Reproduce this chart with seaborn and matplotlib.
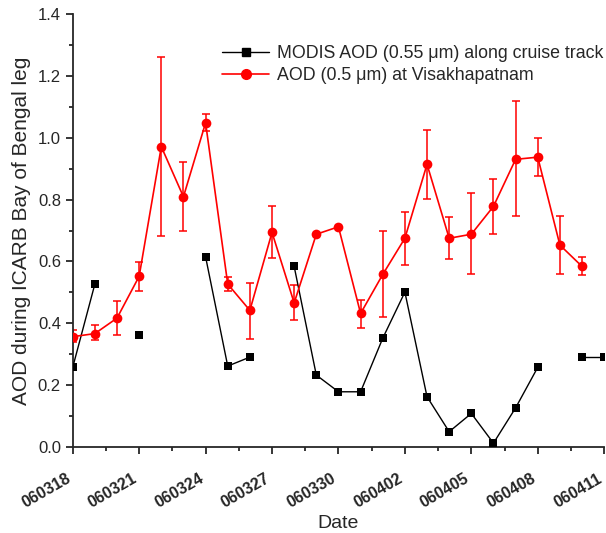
import numpy as np
import pandas as pd
import matplotlib
matplotlib.use("Agg")
import matplotlib.pyplot as plt
import matplotlib.transforms as mtransforms
from matplotlib.ticker import MultipleLocator
import seaborn as sns

# days counted from 060318
tick_labels = ["060318", "060321", "060324", "060327", "060330",
               "060402", "060405", "060408", "060411"]

# MODIS AOD (0.55 um) along cruise track, gaps split into segments
modis_day = [0, 1, 3, 6, 7, 8, 10, 11, 12, 13, 14, 15, 16, 17, 18, 19, 20, 21, 23, 24]
modis_aod = [0.258, 0.527, 0.361, 0.615, 0.262, 0.291, 0.584, 0.233, 0.179, 0.179,
             0.352, 0.501, 0.163, 0.050, 0.109, 0.013, 0.127, 0.258, 0.292, 0.292]
modis_seg = [0, 0, 1, 2, 2, 2, 3, 3, 3, 3, 3, 3, 3, 3, 3, 3, 3, 3, 4, 4]

# AOD (0.5 um) at Visakhapatnam with error bar ends
vsk_day = list(range(24))
vsk_aod = [0.357, 0.367, 0.417, 0.552, 0.971, 0.809, 1.048, 0.527, 0.442, 0.694,
           0.466, 0.688, 0.712, 0.432, 0.558, 0.675, 0.914, 0.675, 0.688, 0.778,
           0.930, 0.937, 0.653, 0.584]
vsk_hi = [0.377, 0.394, 0.473, 0.598, 1.261, 0.921, 1.076, 0.549, 0.531, 0.779,
          0.524, np.nan, np.nan, 0.475, 0.698, 0.761, 1.025, 0.743, 0.822, 0.866,
          1.120, 0.999, 0.746, 0.614]
vsk_lo = [0.340, 0.345, 0.361, 0.504, 0.682, 0.699, 1.022, 0.505, 0.348, 0.610,
          0.411, np.nan, np.nan, 0.385, 0.419, 0.589, 0.801, 0.608, 0.559, 0.690,
          0.747, 0.875, 0.559, 0.556]

modis = pd.DataFrame({"day": modis_day, "aod": modis_aod, "seg": modis_seg})
vsk = pd.DataFrame({"day": vsk_day, "aod": vsk_aod, "hi": vsk_hi, "lo": vsk_lo})

sns.set_style("ticks")
plt.rcParams["font.family"] = ["Liberation Sans", "DejaVu Sans"]

fig = plt.figure(figsize=(6.06, 5.33), dpi=100)
ax = fig.add_axes([0.12, 0.161, 0.877, 0.813])

err = vsk.dropna()
ax.errorbar(err["day"], err["aod"],
            yerr=[err["aod"] - err["lo"], err["hi"] - err["aod"]],
            fmt="none", ecolor="red", elinewidth=1.1, capsize=3, capthick=1.1, zorder=2)

sns.lineplot(data=modis, x="day", y="aod", units="seg", estimator=None,
             color="black", lw=1.0, marker="s", markersize=6, markeredgewidth=0,
             ax=ax, zorder=3)
sns.lineplot(data=vsk, x="day", y="aod", color="red", lw=1.2, marker="o",
             markersize=7, markeredgewidth=0, ax=ax, zorder=3)

ax.set_xlim(0, 24)
ax.set_ylim(0, 1.4)
ax.xaxis.set_minor_locator(MultipleLocator(1.5))
ax.yaxis.set_minor_locator(MultipleLocator(0.1))
ax.set_xticks(range(0, 25, 3))
ax.set_yticks(np.arange(0, 1.41, 0.2))
ax.set_yticklabels([f"{v:.1f}" for v in np.arange(0, 1.41, 0.2)], fontsize=12)
ax.tick_params(axis="both", which="major", length=5, width=1.3, direction="out")
ax.tick_params(axis="x", which="major", pad=17)
ax.tick_params(axis="both", which="minor", length=3, width=1.3, direction="out")
ax.set_xticklabels(tick_labels, rotation=30, ha="right", va="center",
                   rotation_mode="anchor", fontweight="bold", fontsize=11.5)
# nudge the rotated date labels left so the last one stays inside the figure
shift = mtransforms.ScaledTranslation(-2.5 / 72, 0, fig.dpi_scale_trans)
for lab in ax.get_xticklabels():
    lab.set_transform(lab.get_transform() + shift)
for s in ["left", "bottom"]:
    ax.spines[s].set_linewidth(1.3)
sns.despine(ax=ax)

ax.set_xlabel("Date", fontsize=14, labelpad=3)
ax.set_ylabel("AOD during ICARB Bay of Bengal leg", fontsize=15, labelpad=5)

h1 = plt.Line2D([], [], color="black", lw=1.0, marker="s", markersize=6)
h2 = plt.Line2D([], [], color="red", lw=1.2, marker="o", markersize=7)
ax.legend([h1, h2], ["MODIS AOD (0.55 \u03bcm) along cruise track",
                     "AOD (0.5 \u03bcm) at Visakhapatnam"],
          loc="upper right", bbox_to_anchor=(1.011, 0.945), frameon=False,
          fontsize=12.75, handlelength=2.7, handletextpad=0.4, labelspacing=0.3,
          borderaxespad=0.0)

fig.savefig("out.png", dpi=100)
